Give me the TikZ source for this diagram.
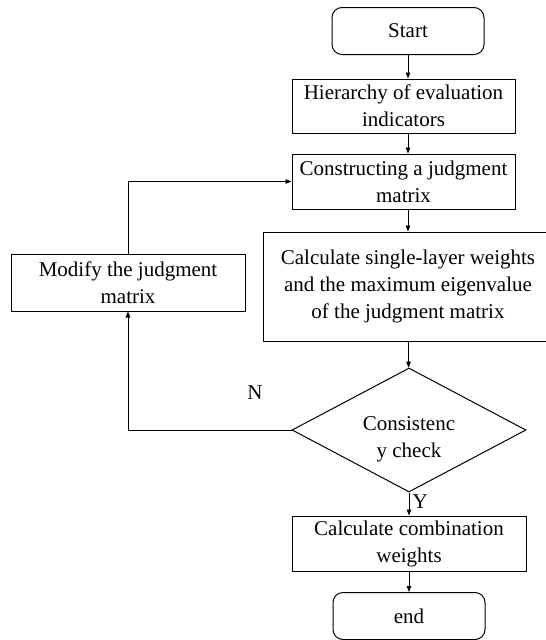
\documentclass[tikz,border=0pt]{standalone}
\usepackage{fontspec}
\setmainfont{Liberation Serif}
\usetikzlibrary{shapes.geometric,arrows.meta}
\newcommand{\flowfont}{\fontsize{21pt}{27pt}\selectfont}

\begin{document}
\begin{tikzpicture}[x=1pt,y=-1pt,
  >={Triangle[length=6pt,width=4.5pt]}]
    \tikzstyle{every node}=[font=\flowfont]
    \tikzstyle{term}=[draw=black,line width=1pt,rounded corners=10pt,
      minimum width=152pt,minimum height=47pt,inner sep=0pt]
    \tikzstyle{proc}=[draw=black,line width=1pt,align=center,
      inner sep=0pt]
    \tikzstyle{link}=[->,line width=0.8pt,black]
    \useasboundingbox (0,0) rectangle (546,640);
    % start / end
    \node[term] (start) at (408,31) {Start};
    \node[term] (stop) at (409,616) {end};
    % steps
    \node[proc,minimum width=223pt,minimum height=54pt] (hier) at (403.5,106)
      {Hierarchy of evaluation\\indicators};
    \node[proc,minimum width=223pt,minimum height=55pt] (cons) at (403.5,181.5)
      {Constructing a judgment\\matrix};
    \node[proc,minimum width=290pt,minimum height=109pt] (calc) at (408,286.5)
      {Calculate single-layer weights\\and the maximum eigenvalue\\of the judgment matrix};
    \node[proc,minimum width=234pt,minimum height=57pt] (mod) at (128,282.5)
      {Modify the judgment\\matrix};
    \node[proc,minimum width=234pt,minimum height=55pt] (comb) at (409,543.5)
      {Calculate combination\\weights};
    % check
    \node[draw=black,line width=1pt,shape=diamond,inner sep=0pt,
      minimum width=234pt,minimum height=124pt] (chk) at (409,430) {};
    \node[align=center] (chktxt) at (409,439) {Consistenc\\y check};
    \node (no) at (255,393) {N};
    % arrows
    \draw[link] (start.south) -- (start.south |- hier.north);
    \draw[link] (start.south |- hier.south) -- (start.south |- cons.north);
    \draw[link] (start.south |- cons.south) -- (calc.north);
    \draw[link] (calc) -- (chk);
    \draw[link] (chk) -- node[right,pos=0.4] {Y} (comb);
    \draw[link] (comb) -- (stop);
    \draw[link] (chk.west) -| (mod.south);
    \draw[link] (mod.north) |- (cons.west);
\end{tikzpicture}
\end{document}
